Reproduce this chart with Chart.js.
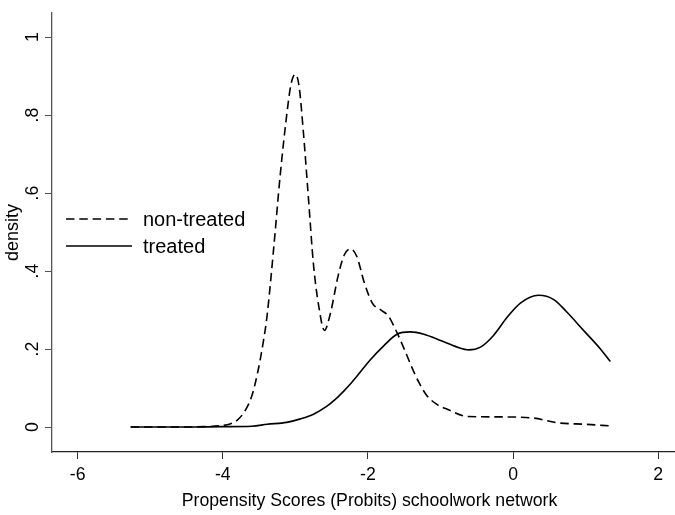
<!DOCTYPE html>
<html>
<head>
<meta charset="utf-8">
<script src="https://cdn.jsdelivr.net/npm/chart.js@4.4.1/dist/chart.umd.min.js"></script>
<style>
html,body{margin:0;padding:0;background:#fff;overflow:hidden;width:675px;height:515px;}
canvas{display:block;}
</style>
</head>
<body>
<canvas id="c" width="687" height="515"></canvas>
<script>
// ---- data ----
const nonTreatedX = [-5.27,-4.6,-4.25,-4.05,-3.9,-3.8,-3.7,-3.6,-3.52,-3.45,-3.39,-3.30,-3.21,-3.12,-3.06,-3.0,-2.95,-2.89,-2.82,-2.75,-2.68,-2.60,-2.52,-2.41,-2.33,-2.24,-2.15,-2.06,-1.94,-1.82,-1.72,-1.62,-1.50,-1.40,-1.30,-1.19,-1.05,-0.90,-0.63,-0.18,0.28,0.61,1.0,1.34];
const nonTreatedY = [0,0,0.001,0.003,0.008,0.018,0.04,0.08,0.14,0.21,0.286,0.457,0.645,0.80,0.88,0.905,0.875,0.756,0.586,0.415,0.312,0.248,0.29,0.389,0.44,0.457,0.436,0.376,0.318,0.300,0.285,0.25,0.20,0.155,0.115,0.081,0.058,0.045,0.027,0.026,0.023,0.011,0.007,0.003];
const treatedX = [-5.27,-4.5,-4.0,-3.6,-3.39,-3.12,-2.93,-2.75,-2.57,-2.45,-2.34,-2.24,-2.15,-1.97,-1.78,-1.60,-1.42,-1.23,-1.0,-0.77,-0.61,-0.45,-0.27,-0.08,0.10,0.35,0.56,0.74,0.97,1.20,1.34];
const treatedY = [0,0,0.001,0.002,0.007,0.012,0.021,0.033,0.053,0.071,0.091,0.111,0.131,0.172,0.209,0.238,0.244,0.238,0.222,0.205,0.198,0.205,0.235,0.282,0.318,0.338,0.327,0.295,0.248,0.201,0.168];
const seriesLabels = ['non-treated','treated'];
const xTicks = [-6,-4,-2,0,2];
const yTicks = [0,0.2,0.4,0.6,0.8,1];
const xTitle = 'Propensity Scores (Probits) schoolwork network';
const yTitle = 'density';

const FONT = 'Liberation Sans, Arial, sans-serif';
const toPts = (xs, ys) => xs.map((x,i)=>({x:x, y:ys[i]}));
const fmtY = v => v === 0 ? '0' : (v === 1 ? '1' : v.toFixed(1).replace(/^0/, ''));

const legendPlugin = {
  id: 'insideLegend',
  afterDraw(chart) {
    const ctx = chart.ctx;
    const items = [{y:219}, {y:246}];
    chart.data.datasets.forEach((ds, i) => {
      const y = items[i].y;
      ctx.save();
      ctx.strokeStyle = ds.borderColor;
      ctx.lineWidth = ds.borderWidth;
      ctx.setLineDash(ds.borderDash || []);
      ctx.beginPath();
      ctx.moveTo(66, y);
      ctx.lineTo(132, y);
      ctx.stroke();
      ctx.setLineDash([]);
      ctx.fillStyle = '#000';
      ctx.font = '20px ' + FONT;
      ctx.textBaseline = 'middle';
      ctx.textAlign = 'left';
      ctx.fillText(ds.label, 143, y + 1);
      ctx.restore();
    });
  }
};

new Chart(document.getElementById('c'), {
  type: 'scatter',
  data: {
    datasets: [
      {label: seriesLabels[0], data: toPts(nonTreatedX, nonTreatedY), showLine: true,
       borderColor: '#000', borderWidth: 1.6, borderDash: [8.5, 4.8], pointRadius: 0,
       cubicInterpolationMode: 'monotone', fill: false},
      {label: seriesLabels[1], data: toPts(treatedX, treatedY), showLine: true,
       borderColor: '#000', borderWidth: 1.6, pointRadius: 0,
       cubicInterpolationMode: 'monotone', fill: false}
    ]
  },
  options: {
    responsive: false,
    animation: false,
    layout: {padding: {top: 13, left: 0, right: 0, bottom: 0}},
    plugins: {legend: {display: false}, tooltip: {enabled: false}},
    scales: {
      x: {
        type: 'linear', min: -6.354, max: 2.396,
        afterBuildTicks: s => { s.ticks = xTicks.map(v => ({value: v})); },
        afterFit: s => { s.height = 63; s.paddingLeft = 0; s.paddingRight = 0; },
        grid: {drawOnChartArea: false, drawTicks: true, tickLength: 7, color: '#333', lineWidth: 1},
        border: {display: true, color: '#222', width: 1.3},
        ticks: {color: '#000', font: {family: FONT, size: 17.7}, padding: 5, maxRotation: 0, autoSkip: false},
        title: {display: true, text: xTitle, color: '#000', font: {family: FONT, size: 17.7}, padding: {top: 0, bottom: 3}}
      },
      y: {
        type: 'linear', min: -0.064, max: 1.062,
        afterBuildTicks: s => { s.ticks = yTicks.map(v => ({value: v})); },
        afterFit: s => { s.width = 52; s.paddingTop = 0; s.paddingBottom = 0; },
        grid: {drawOnChartArea: false, drawTicks: true, tickLength: 7, color: '#555', lineWidth: 1},
        border: {display: true, color: '#555', width: 1.3},
        ticks: {color: '#000', font: {family: FONT, size: 17.7}, padding: 5, minRotation: 90, maxRotation: 90,
                crossAlign: 'center', autoSkip: false, callback: v => fmtY(v)},
        title: {display: true, text: yTitle, color: '#000', font: {family: FONT, size: 18}, padding: {top: 2, bottom: 0}}
      }
    }
  },
  plugins: [legendPlugin]
});
</script>
</body>
</html>
